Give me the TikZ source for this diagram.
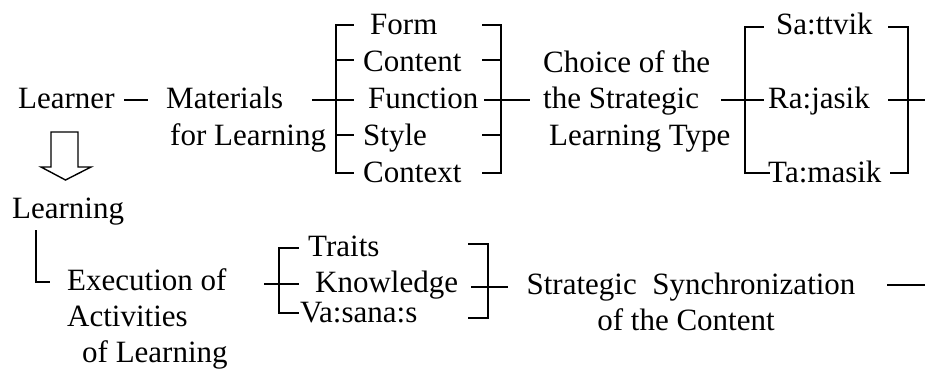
\documentclass[tikz,border=0pt]{standalone}
\usepackage{fontspec}
\setmainfont{Liberation Serif}
\begin{document}
\begin{tikzpicture}[x=1pt,y=-1pt,
  lbl/.style={anchor=base west,inner sep=0pt,font=\fontsize{31}{37}\selectfont},
  lblc/.style={anchor=base,inner sep=0pt,font=\fontsize{31}{37}\selectfont},
  ln/.style={line width=1.6pt,line cap=rect}]
\useasboundingbox (0,0) rectangle (925,369);

% ---------- top row texts ----------
\node[lbl] (learner) at (18,108) {Learner};
\node[lbl] (mat1) at (166,108) {Materials};
\node[lbl] (mat2) at (170,145) {for Learning};
\node[lbl] (form) at (370,35) {Form};
\node[lbl] (content) at (363,71) {Content};
\node[lbl] (function) at (368,108) {Function};
\node[lbl] (style) at (363,145) {Style};
\node[lbl] (context) at (363,182) {Context};
\node[lbl] (ch1) at (543,72) {Choice of the};
\node[lbl] (ch2) at (543,108) {the Strategic};
\node[lbl] (ch3) at (549,145) {Learning Type};
\node[lbl] (sat) at (776,35) {Sa:ttvik};
\node[lbl] (raj) at (768,108) {Ra:jasik};
\node[lbl] (tam) at (768,182) {Ta:masik};

% ---------- bottom texts ----------
\node[lbl] (learning) at (12,218) {Learning};
\node[lbl] (ex1) at (67,290) {Execution of};
\node[lbl] (ex2) at (67,326) {Activities};
\node[lbl] (ex3) at (82,362) {of Learning};
\node[lbl] (traits) at (308,256) {Traits};
\node[lbl] (know) at (315,292) {Knowledge};
\node[lbl] (vas) at (300,322) {Va:sana:s};
\node[lblc] (ss1) at (691,294) {Strategic\hspace{0.25em} Synchronization};
\node[lblc] (ss2) at (686,330) {of the Content};

% ---------- connector coordinates ----------
\coordinate (d1) at (125,100); \coordinate (d2) at (147,100);
% bracket 1 (left of Form..Context)
\coordinate (a0) at (313,100);
\coordinate (aT) at (336,25); \coordinate (aB) at (336,173);
\coordinate (aTe) at (353,25); \coordinate (aBe) at (353,173);
\coordinate (a2s) at (336,60); \coordinate (a2e) at (353,60);
\coordinate (a3e) at (353,100);
\coordinate (a4s) at (336,135); \coordinate (a4e) at (353,135);
% bracket 2 (right of Form..Context)
\coordinate (bT) at (501,25); \coordinate (bB) at (501,173);
\coordinate (bTs) at (483,25); \coordinate (bBs) at (483,173);
\coordinate (b2s) at (483,60); \coordinate (b2e) at (501,60);
\coordinate (b4s) at (483,135); \coordinate (b4e) at (501,135);
\coordinate (b3s) at (485,100); \coordinate (b3e) at (529,100);
% bracket 3 (left of Sattvik..Tamasik)
\coordinate (c0) at (722,100); \coordinate (c3e) at (763,100);
\coordinate (cT) at (745,27); \coordinate (cB) at (745,173);
\coordinate (cTe) at (763,27); \coordinate (cBe) at (769,173);
% bracket 4 (right of Sattvik..Tamasik)
\coordinate (eT) at (908,27); \coordinate (eB) at (908,173);
\coordinate (eTs) at (889,27); \coordinate (eBs) at (891,173);
\coordinate (e3s) at (889,100); \coordinate (e3e) at (925,100);
% L line
\coordinate (l1) at (36,231); \coordinate (l2) at (36,282); \coordinate (l3) at (49,282);
% bracket 5 (left of Traits..Vasanas)
\coordinate (fT) at (279,248); \coordinate (fB) at (279,313);
\coordinate (fTe) at (298,248); \coordinate (fBe) at (298,313);
\coordinate (f3s) at (265,284); \coordinate (f3e) at (298,284);
% bracket 6 (right of Traits..Vasanas)
\coordinate (gT) at (488,244); \coordinate (gB) at (488,318);
\coordinate (gTs) at (469,244); \coordinate (gBs) at (469,318);
\coordinate (g3s) at (472,287); \coordinate (g3e) at (507,287);
% final line
\coordinate (h1) at (888,285); \coordinate (h2) at (925,285);

% ---------- connectors ----------
\draw[ln] (d1) -- (d2);
\draw[ln] (aTe) -- (aT) -- (aB) -- (aBe);
\draw[ln] (a2s) -- (a2e); \draw[ln] (a4s) -- (a4e); \draw[ln] (a0) -- (a3e);
\draw[ln] (bTs) -- (bT) -- (bB) -- (bBs);
\draw[ln] (b2s) -- (b2e); \draw[ln] (b4s) -- (b4e); \draw[ln] (b3s) -- (b3e);
\draw[ln] (cTe) -- (cT) -- (cB) -- (cBe); \draw[ln] (c0) -- (c3e);
\draw[ln] (eTs) -- (eT) -- (eB) -- (eBs); \draw[ln] (e3s) -- (e3e);
\draw[ln] (l1) -- (l2) -- (l3);
\draw[ln] (fTe) -- (fT) -- (fB) -- (fBe); \draw[ln] (f3s) -- (f3e);
\draw[ln] (gTs) -- (gT) -- (gB) -- (gBs); \draw[ln] (g3s) -- (g3e);
\draw[ln] (h1) -- (h2);

% ---------- block arrow Learner -> Learning ----------
\draw[line width=1.4pt,line join=miter]
  (51,132) -- (78,132) -- (78,167) -- (91,167) -- (65.5,180) -- (41,167) -- (51,167) -- cycle;
\end{tikzpicture}
\end{document}
